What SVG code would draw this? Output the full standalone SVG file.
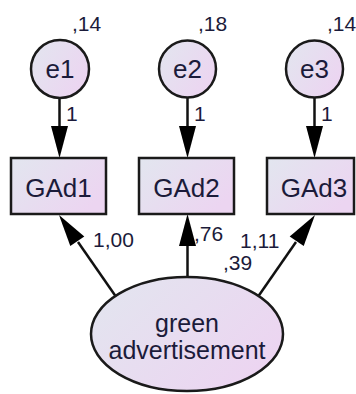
<svg xmlns="http://www.w3.org/2000/svg" width="356" height="394" viewBox="0 0 356 394">
<defs>
<linearGradient id="g" x1="0" y1="0" x2="1" y2="0.6">
<stop offset="0" stop-color="#e2e6ef"/>
<stop offset="1" stop-color="#ecd5f1"/>
</linearGradient>
</defs>
<style>
.shape{fill:url(#g);stroke:#1a1a1a;stroke-width:2.5}
.lbl{font-family:"Liberation Sans",Arial,sans-serif;font-size:26px;fill:#1b1b3a;text-anchor:middle}
.big{font-family:"Liberation Sans",Arial,sans-serif;font-size:25px;fill:#1b1b3a;text-anchor:middle}
.num{font-family:"Liberation Sans",Arial,sans-serif;font-size:21px;fill:#1b1b3a}
.ln{stroke:#111;stroke-width:2.5;fill:none}
.ah{fill:#000}
</style>
<rect width="356" height="394" fill="#fff"/>
<g id="connectors">
<line class="ln" x1="59.5" y1="98" x2="59.5" y2="128"/>
<polygon class="ah" points="59.5,158 51,126 68,126"/>
<line class="ln" x1="187.5" y1="97" x2="187.5" y2="128"/>
<polygon class="ah" points="187.5,158 179,126 196,126"/>
<line class="ln" x1="314.5" y1="97" x2="314.5" y2="128"/>
<polygon class="ah" points="314.5,158 306,126 323,126"/>
<line class="ln" x1="187.5" y1="277" x2="187.5" y2="244"/>
<polygon class="ah" points="187.5,214 179,246 196,246"/>
<line class="ln" x1="115.5" y1="296" x2="78" y2="242"/>
<polygon class="ah" points="59,215 84.3,236.4 70.3,246.1"/>
<line class="ln" x1="258.5" y1="296" x2="296" y2="242"/>
<polygon class="ah" points="315,215 289.7,236.4 303.7,246.1"/>
<text class="num" x="66" y="121">1</text>
<text class="num" x="194" y="121">1</text>
<text class="num" x="321" y="121">1</text>
<text class="num" x="93" y="247">1,00</text>
<text class="num" x="194" y="241">,76</text>
<text class="num" x="240" y="248">1,11</text>
<text class="num" x="223" y="270">,39</text>
</g>
<g id="e1">
<circle class="shape" cx="60" cy="69" r="29"/>
<text class="lbl" x="60" y="78">e1</text>
<text class="num" x="72" y="31">,14</text>
</g>
<g id="e2">
<circle class="shape" cx="187.5" cy="69" r="28.5"/>
<text class="lbl" x="187.5" y="78">e2</text>
<text class="num" x="198" y="31">,18</text>
</g>
<g id="e3">
<circle class="shape" cx="314.5" cy="69" r="28.5"/>
<text class="lbl" x="314.5" y="78">e3</text>
<text class="num" x="327" y="31">,14</text>
</g>
<g id="GAd1">
<rect class="shape" x="11" y="158" width="95" height="56"/>
<text class="lbl" x="58.5" y="197">GAd1</text>
</g>
<g id="GAd2">
<rect class="shape" x="139" y="158" width="95" height="56"/>
<text class="lbl" x="186.5" y="197">GAd2</text>
</g>
<g id="GAd3">
<rect class="shape" x="267" y="158" width="87" height="56"/>
<text class="lbl" x="314" y="197">GAd3</text>
</g>
<g id="green_advertisement">
<ellipse class="shape" cx="187" cy="334" rx="96" ry="57"/>
<text class="big" x="187" y="332">green</text>
<text class="big" x="187" y="359">advertisement</text>
</g>
</svg>
